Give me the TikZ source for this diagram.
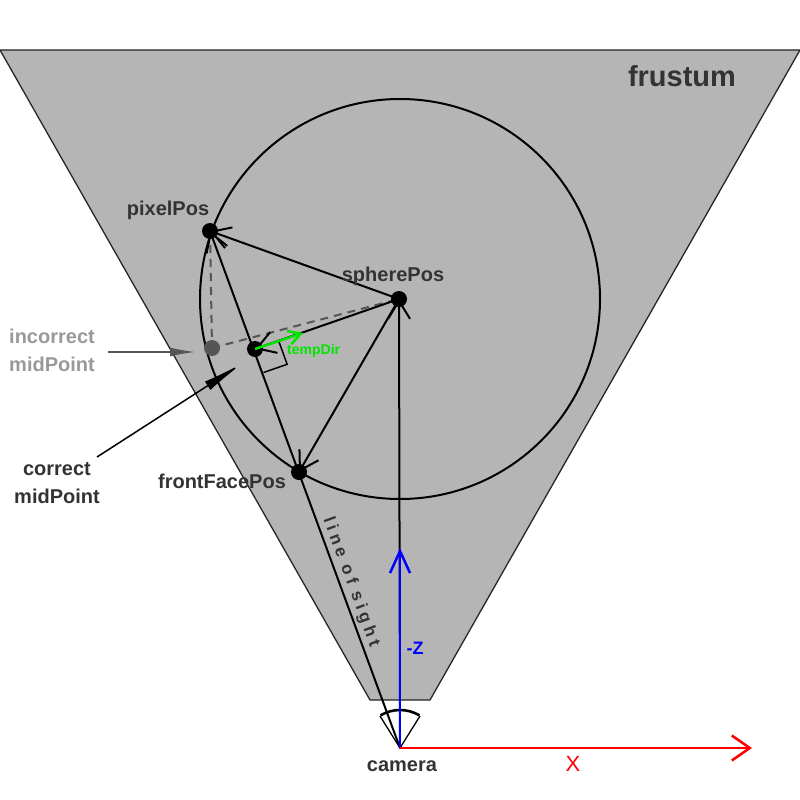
\documentclass[tikz,border=0pt]{standalone}
\usepackage{fontspec}
\setmainfont{Liberation Sans}
\usetikzlibrary{arrows.meta,calc}
\definecolor{frgray}{RGB}{181,181,181}
\definecolor{txt}{RGB}{51,51,51}
\definecolor{lightt}{RGB}{153,153,153}
\definecolor{midg}{RGB}{85,85,85}
\definecolor{zblue}{RGB}{0,0,255}
\definecolor{xred}{RGB}{255,0,0}
\definecolor{tgreen}{RGB}{0,230,0}
\begin{document}
\begin{tikzpicture}[x=1pt,y=-1pt,
  vec/.style={line width=2pt,-{Straight Barb[length=18pt,width=22pt,line width=2pt]}},
  dot/.style={circle,fill=black,inner sep=0pt,minimum size=16pt},
  lbl/.style={text=txt,font=\fontsize{20}{28}\selectfont\bfseries,align=center,inner sep=0pt},
  dashedline/.style={draw=midg,line width=2pt,dash pattern=on 8pt off 6pt}
]
\useasboundingbox (0,0) rectangle (800,800);
% frustum
\draw[fill=frgray,draw=black!85,line width=1.3pt] (0,50) -- (800,50) -- (430,700) -- (370,700) -- cycle;
% key points
\coordinate (S) at (399,299);
\coordinate (P) at (210,231);
\coordinate (F) at (299,472);
\coordinate (M) at (255,349);
\coordinate (I) at (212,348);
\coordinate (C) at (400,748);
\coordinate (Z) at (400,548);
\coordinate (X) at (752,748);
\coordinate (T) at (303,333);
% sphere
\draw[line width=2pt] (400,299) circle[radius=200];
% dashed construction lines
\draw[dashedline] (P) -- (I);
\draw[dashedline] (I) -- (S);
% vectors
\draw[vec] (C) -- (P);
\draw[vec] (S) -- (P);
\draw[vec] (S) -- (F);
\draw[vec] (S) -- (M);
\draw[vec] (C) -- (S);
% right angle marker
\coordinate (RA) at ($(M)!25pt!(S)$);
\coordinate (RB) at ($(M)!25pt!(C)$);
\draw[line width=1.5pt] (RA) -- ($(RA)+(RB)-(M)$) -- (RB);
% camera fan
\draw[line width=1.3pt] (380,716) -- (C) -- (420,716);
\draw[line width=2.6pt] (C) ++(-59:38) arc[start angle=-59,end angle=-121,radius=38];
% axes
\draw[zblue,line width=2.5pt,-{Straight Barb[length=22pt,width=20pt,line width=2.5pt]}] (C) -- (Z);
\draw[xred,line width=2.5pt,-{Straight Barb[length=18pt,width=25pt,line width=2.5pt]}] (C) -- (X);
% dots
\node[dot] (Pd) at (P) {};
\node[dot] (Sd) at (S) {};
\node[dot] (Fd) at (F) {};
\node[dot] (Md) at (M) {};
\node[circle,fill=midg,inner sep=0pt,minimum size=16pt] (Id) at (I) {};
% tempDir
\draw[tgreen,line width=2.5pt,-{Straight Barb[length=12pt,width=14pt,line width=2.5pt]}] (M) -- (T);
\node[text=tgreen,font=\fontsize{14}{16}\selectfont\bfseries,anchor=west,inner sep=0pt] (tdl) at (287,351) {tempDir};
% labels
\node[lbl,font=\fontsize{29}{32}\selectfont\bfseries] (frl) at (682,76) {frustum};
\node[lbl] (pl) at (168,210) {pixelPos};
\node[lbl] (sl) at (393,276) {spherePos};
\node[lbl] (fl) at (222,481) {frontFacePos};
\node[lbl,text=lightt] (il) at (52,350) {incorrect\\midPoint};
\node[lbl] (cl) at (57,483) {correct\\midPoint};
\node[lbl] (caml) at (402,766) {camera};
\node[text=zblue,font=\fontsize{18}{20}\selectfont\bfseries,inner sep=0pt] (zl) at (415,648) {-Z};
\node[text=xred,font=\fontsize{22}{24}\selectfont,inner sep=0pt] (xl) at (573,764) {X};
\node[text=txt,font=\fontsize{17}{19}\selectfont\bfseries\addfontfeature{LetterSpace=24},rotate=-69.8,inner sep=0pt] (los) at (351,582) {line of sight};
% label arrows
\coordinate (ia) at (108,352);
\coordinate (ib) at (196,352);
\draw[midg,line width=2pt,-{Latex[length=26pt,width=9pt]}] (ia) -- (ib);
\coordinate (ca) at (97,457);
\coordinate (cb) at (243,363);
\draw[black,line width=1.5pt,-{Latex[length=42pt,width=10pt]}] (ca) -- (cb);
\end{tikzpicture}
\end{document}
